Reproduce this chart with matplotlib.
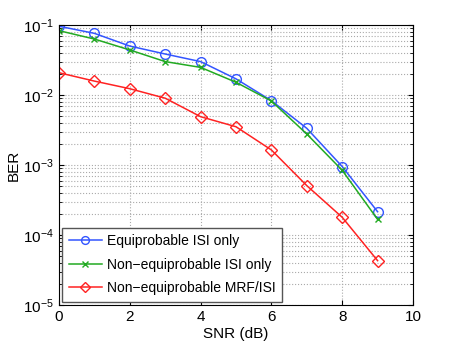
import numpy as np
import matplotlib.pyplot as plt

plt.rcParams['font.family'] = ['Liberation Sans', 'DejaVu Sans']

# -----------------------------
# Data
# -----------------------------
snr = [0, 1, 2, 3, 4, 5, 6, 7, 8, 9]

ber_equi = [0.096, 0.076, 0.050, 0.0385, 0.030, 0.0170, 0.0083, 0.00334, 0.00095, 2.15e-4]
ber_nonequi = [0.083, 0.063, 0.044, 0.030, 0.0248, 0.0152, 0.0082, 0.00277, 0.00084, 1.67e-4]
ber_mrf = [0.0208, 0.0158, 0.0123, 0.0090, 0.0049, 0.00352, 0.00164, 5.07e-4, 1.79e-4, 4.3e-5]

labels = ["Equiprobable ISI only",
          "Non\u2212equiprobable ISI only",
          "Non\u2212equiprobable MRF/ISI"]


# -----------------------------
# Plot
# -----------------------------
fig = plt.figure(figsize=(4.57, 3.44), dpi=100)
ax = fig.add_axes([59 / 457, 1 - 305 / 344, 354 / 457, 280 / 344])

ax.semilogy(snr, ber_equi, color="#3355ff", marker="o", markersize=7,
            markerfacecolor="none", linewidth=1.1, label=labels[0])
ax.semilogy(snr, ber_nonequi, color="#22aa22", marker="x", markersize=5,
            linewidth=1.1, label=labels[1])
ax.semilogy(snr, ber_mrf, color="#ff2222", marker="D", markersize=6,
            markerfacecolor="none", linewidth=1.1, label=labels[2])

ax.set_xlim(0, 10)
ax.set_ylim(1e-5, 1e-1)
ax.set_xticks([0, 2, 4, 6, 8, 10])

ax.grid(True, which="major", linestyle=":", color="#aaaaaa", linewidth=0.8)
ax.grid(True, which="minor", axis="y", linestyle=":", color="#aaaaaa", linewidth=0.8)
ax.tick_params(which="both", direction="in", top=True, right=True, labelsize=11)

ax.set_xlabel("SNR (dB)", fontsize=11, labelpad=2)
ax.set_ylabel("BER", fontsize=11, labelpad=2)

leg = ax.legend(loc="lower left", fontsize=10, fancybox=False, framealpha=1,
                edgecolor="#555555", borderaxespad=0.25, handlelength=2.4,
                handletextpad=0.35, labelspacing=0.7, borderpad=0.45,
                markerscale=0.8)
leg.get_frame().set_linewidth(1.0)

fig.savefig("out.png", dpi=100)
